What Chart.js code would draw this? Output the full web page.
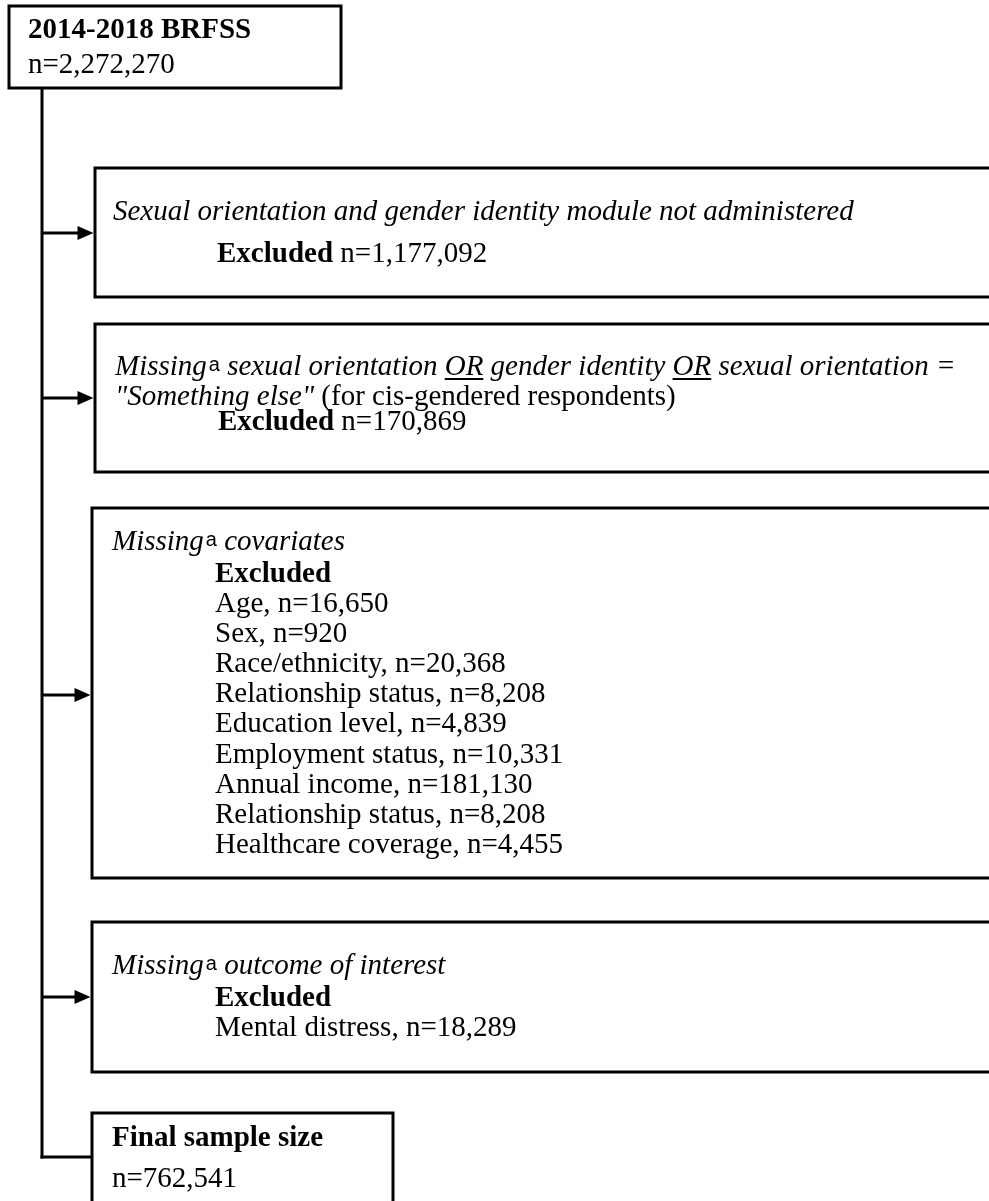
<!DOCTYPE html>
<html>
<head>
<meta charset="utf-8">
<script src="https://cdn.jsdelivr.net/npm/chart.js@4/dist/chart.umd.min.js"></script>
<style>
  html, body { margin: 0; padding: 0; background: #ffffff; }
  #wrap { width: 989px; height: 1201px; }
</style>
</head>
<body>
<div id="wrap"><canvas id="c" width="989" height="1201"></canvas></div>
<script>
// ---------------- DATA ----------------
const sourceTitle = "2014-2018 BRFSS";
const sourceN = 2272270;

const step1Reason = "Sexual orientation and gender identity module not administered";
const step1Excluded = 1177092;

const step2Excluded = 170869;

const covariateNames = ["Age", "Sex", "Race/ethnicity", "Relationship status", "Education level",
  "Employment status", "Annual income", "Relationship status", "Healthcare coverage"];
const covariateCounts = [16650, 920, 20368, 8208, 4839, 10331, 181130, 8208, 4455];

const outcomeNames = ["Mental distress"];
const outcomeCounts = [18289];

const finalTitle = "Final sample size";
const finalN = 762541;

// ---------------- LAYOUT (drawing units = scale values) ----------------
const W = 989, H = 1201;
const fmt = v => v.toLocaleString('en-US');
const FS = 29;
const SERIF = '"Liberation Serif", "Times New Roman", serif';
const fonts = {
  r: `${FS}px ${SERIF}`,
  i: `italic ${FS}px ${SERIF}`,
  b: `bold ${FS}px ${SERIF}`,
  sup: `20px "Liberation Sans", Arial, sans-serif`
};

const spineX = 42;
const boxes = [
  { l: 9,  t: 6,    r: 341, b: 88 },      // source
  { l: 95, t: 168,  r: 995, b: 297, arrowY: 233 },
  { l: 95, t: 324,  r: 995, b: 472, arrowY: 398 },
  { l: 92, t: 508,  r: 995, b: 878, arrowY: 695 },
  { l: 92, t: 922,  r: 995, b: 1072, arrowY: 997 },
  { l: 92, t: 1113, r: 393, b: 1220, joinY: 1157 } // final
];

function buildLines() {
  const L = [];
  // source box
  L.push({ x: 28, y: 38, runs: [{ t: sourceTitle, s: 'b' }] });
  L.push({ x: 28, y: 73, runs: [{ t: 'n=' + fmt(sourceN), s: 'r' }] });
  // step 1
  L.push({ x: 113, y: 220, runs: [{ t: step1Reason, s: 'i' }] });
  L.push({ x: 217, y: 262, runs: [{ t: 'Excluded', s: 'b' }, { t: ' n=' + fmt(step1Excluded), s: 'r' }] });
  // step 2
  L.push({ x: 115, y: 375, runs: [
    { t: 'Missing', s: 'i' }, { t: 'a', s: 'sup' },
    { t: ' sexual orientation ', s: 'i' }, { t: 'OR', s: 'i', u: true },
    { t: ' gender identity ', s: 'i' }, { t: 'OR', s: 'i', u: true },
    { t: ' sexual orientation =', s: 'i' }] });
  L.push({ x: 115, y: 405, runs: [{ t: '"Something else"', s: 'i' }, { t: ' (for cis-gendered respondents)', s: 'r' }] });
  L.push({ x: 218, y: 430, runs: [{ t: 'Excluded', s: 'b' }, { t: ' n=' + fmt(step2Excluded), s: 'r' }] });
  // step 3
  L.push({ x: 112, y: 550, runs: [{ t: 'Missing', s: 'i' }, { t: 'a', s: 'sup' }, { t: ' covariates', s: 'i' }] });
  L.push({ x: 215, y: 582, runs: [{ t: 'Excluded', s: 'b' }] });
  covariateNames.forEach((n, k) => {
    L.push({ x: 215, y: 612 + k * 30.1, runs: [{ t: n + ', n=' + fmt(covariateCounts[k]), s: 'r' }] });
  });
  // step 4
  L.push({ x: 112, y: 974, runs: [{ t: 'Missing', s: 'i' }, { t: 'a', s: 'sup' }, { t: ' outcome of interest', s: 'i' }] });
  L.push({ x: 215, y: 1006, runs: [{ t: 'Excluded', s: 'b' }] });
  outcomeNames.forEach((n, k) => {
    L.push({ x: 215, y: 1036 + k * 30.1, runs: [{ t: n + ', n=' + fmt(outcomeCounts[k]), s: 'r' }] });
  });
  // final
  L.push({ x: 112, y: 1146, runs: [{ t: finalTitle, s: 'b' }] });
  L.push({ x: 112, y: 1187, runs: [{ t: 'n=' + fmt(finalN), s: 'r' }] });
  return L;
}

const flowPlugin = {
  id: 'flow',
  afterDraw(chart) {
    const ctx = chart.ctx;
    const xs = chart.scales.x, ys = chart.scales.y;
    const X = v => xs.getPixelForValue(v);
    const Y = v => ys.getPixelForValue(v);
    ctx.save();
    ctx.strokeStyle = '#000';
    ctx.fillStyle = '#000';
    ctx.lineWidth = 3;
    ctx.lineCap = 'butt';
    // spine
    const last = boxes[boxes.length - 1];
    ctx.beginPath();
    ctx.moveTo(X(spineX), Y(boxes[0].b));
    ctx.lineTo(X(spineX), Y(last.joinY) + 1.5);
    ctx.stroke();
    // boxes
    boxes.forEach(bx => {
      ctx.strokeRect(X(bx.l), Y(bx.t), X(bx.r) - X(bx.l), Y(bx.b) - Y(bx.t));
    });
    // arrows
    boxes.forEach(bx => {
      if (bx.arrowY === undefined) return;
      const y = Y(bx.arrowY);
      const tip = X(bx.l) - 1.5;
      ctx.beginPath();
      ctx.moveTo(X(spineX), y);
      ctx.lineTo(tip - 14, y);
      ctx.stroke();
      ctx.beginPath();
      ctx.moveTo(tip, y);
      ctx.lineTo(tip - 16, y - 7);
      ctx.lineTo(tip - 16, y + 7);
      ctx.closePath();
      ctx.fill();
    });
    // final join
    ctx.beginPath();
    ctx.moveTo(X(spineX) - 1.5, Y(last.joinY));
    ctx.lineTo(X(last.l), Y(last.joinY));
    ctx.stroke();
    // text
    ctx.textBaseline = 'alphabetic';
    ctx.textAlign = 'left';
    buildLines().forEach(line => {
      let cx = X(line.x);
      const by = Y(line.y);
      line.runs.forEach(run => {
        ctx.font = fonts[run.s];
        const w = ctx.measureText(run.t).width;
        if (run.s === 'sup') {
          ctx.fillText(run.t, cx + 2, by - 4);
          cx += w + 2;
          return;
        }
        ctx.fillText(run.t, cx, by);
        if (run.u) {
          ctx.fillRect(cx, by + 3, w, 2);
        }
        cx += w;
      });
    });
    ctx.restore();
  }
};

new Chart(document.getElementById('c'), {
  type: 'scatter',
  data: { datasets: [{ data: [], pointRadius: 0 }] },
  options: {
    responsive: false,
    animation: false,
    layout: { padding: 0 },
    plugins: { legend: { display: false }, tooltip: { enabled: false } },
    scales: {
      x: { type: 'linear', min: 0, max: W, display: false },
      y: { type: 'linear', min: 0, max: H, reverse: true, display: false }
    }
  },
  plugins: [flowPlugin]
});
</script>
</body>
</html>
